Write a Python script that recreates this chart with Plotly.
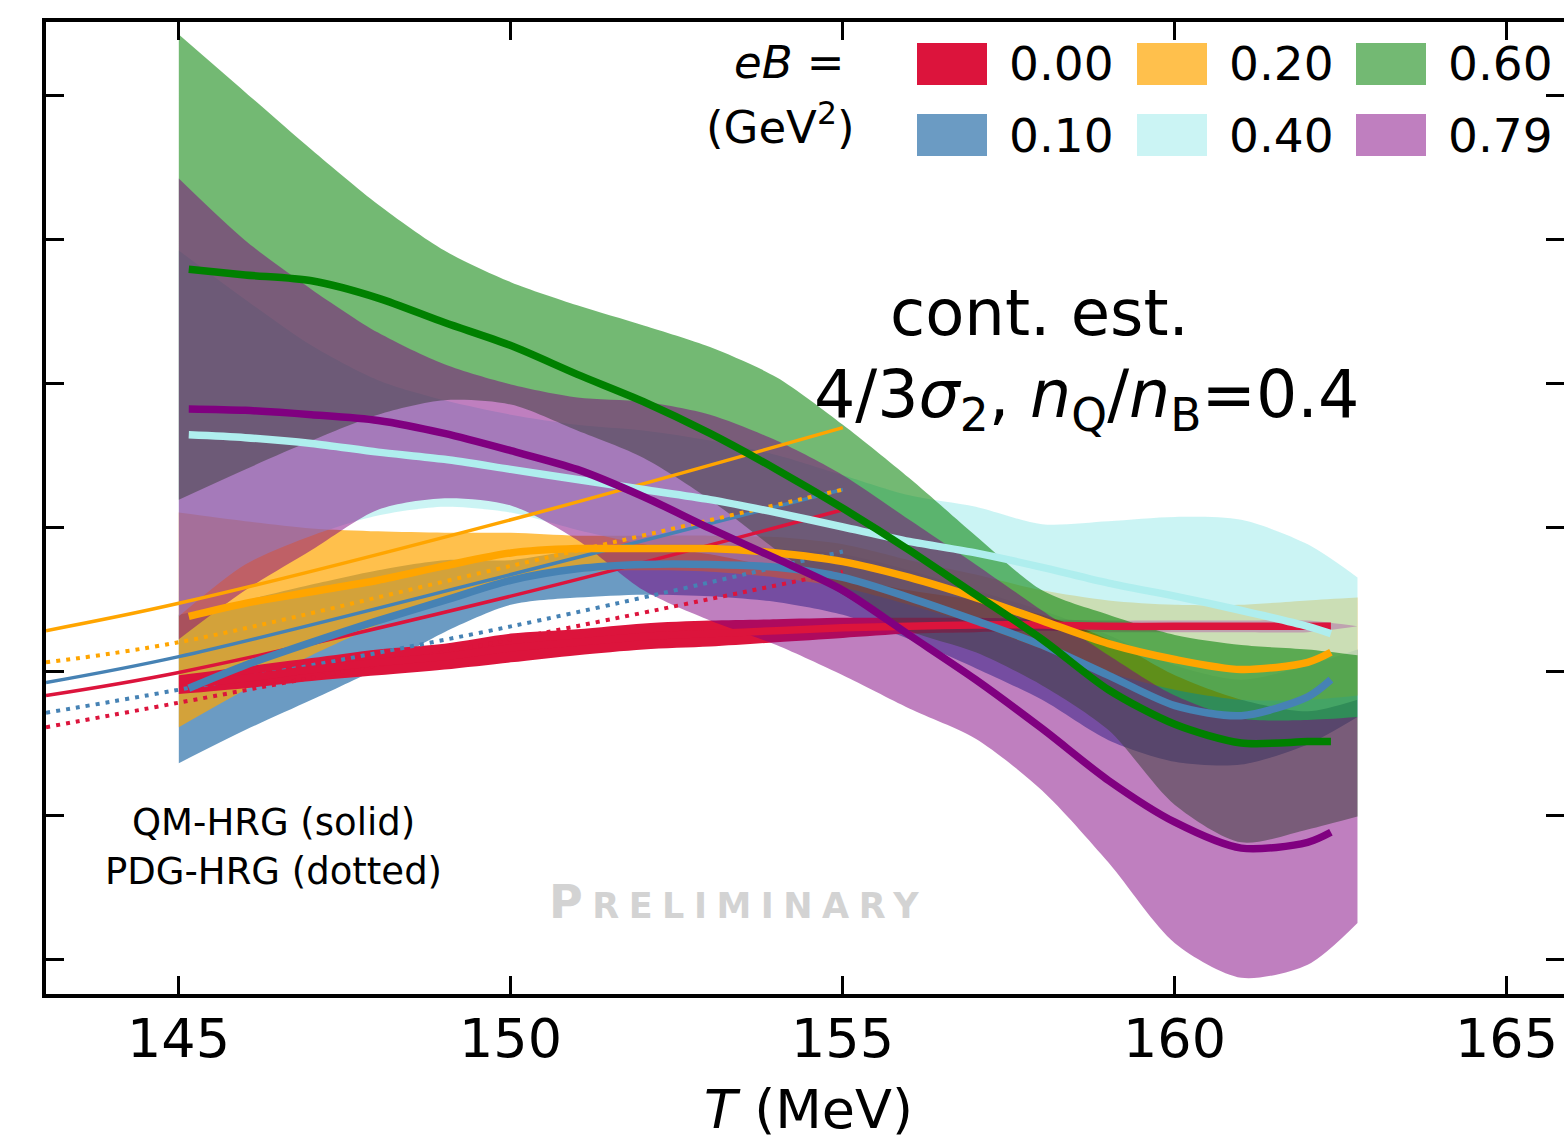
import plotly.graph_objects as go

# Temperature grids (MeV)
T_BAND = [145, 146, 147, 148, 149, 150, 151, 152, 153, 154, 155, 156, 157, 158, 159, 160, 161, 162, 162.75]
T_LINE = [145.15, 146, 147, 148, 149, 150, 151, 152, 153, 154, 155, 156, 157, 158, 159, 160, 161, 162, 162.35]
T_HRG = [143, 145, 150, 155]

EB_LABELS = ["0.00", "0.10", "0.20", "0.40", "0.60", "0.79"]

# Continuum estimates: central values and error-band edges, eB = 0.00 ... 0.79 GeV^2
cen_000 = [0.591, 0.595, 0.601, 0.606, 0.610, 0.616, 0.620, 0.624, 0.626, 0.628, 0.630, 0.631, 0.632, 0.632, 0.631, 0.631, 0.631, 0.631, 0.631]
lo_000 = [0.584, 0.588, 0.593, 0.597, 0.601, 0.606, 0.611, 0.615, 0.617, 0.620, 0.623, 0.626, 0.627, 0.628, 0.627, 0.627, 0.627, 0.627, 0.631]
hi_000 = [0.597, 0.603, 0.609, 0.615, 0.619, 0.626, 0.629, 0.633, 0.635, 0.636, 0.637, 0.637, 0.637, 0.636, 0.635, 0.635, 0.635, 0.635, 0.631]

cen_010 = [0.588, 0.604, 0.620, 0.635, 0.649, 0.663, 0.671, 0.674, 0.674, 0.672, 0.665, 0.651, 0.635, 0.618, 0.597, 0.576, 0.569, 0.582, 0.594]
lo_010 = [0.536, 0.559, 0.580, 0.602, 0.627, 0.646, 0.651, 0.653, 0.652, 0.648, 0.639, 0.622, 0.602, 0.580, 0.552, 0.537, 0.535, 0.549, 0.568]
hi_010 = [0.639, 0.649, 0.660, 0.670, 0.677, 0.677, 0.684, 0.688, 0.688, 0.685, 0.681, 0.670, 0.656, 0.642, 0.625, 0.604, 0.594, 0.604, 0.615]

cen_020 = [0.638, 0.647, 0.655, 0.663, 0.673, 0.682, 0.685, 0.685, 0.685, 0.682, 0.676, 0.665, 0.651, 0.635, 0.619, 0.608, 0.601, 0.606, 0.613]
lo_020 = [0.561, 0.587, 0.611, 0.632, 0.651, 0.665, 0.669, 0.670, 0.669, 0.665, 0.658, 0.646, 0.632, 0.615, 0.599, 0.587, 0.580, 0.580, 0.583]
hi_020 = [0.710, 0.704, 0.699, 0.697, 0.696, 0.696, 0.694, 0.694, 0.694, 0.693, 0.688, 0.677, 0.667, 0.656, 0.649, 0.646, 0.646, 0.649, 0.651]

cen_040 = [0.764, 0.762, 0.758, 0.752, 0.747, 0.740, 0.733, 0.726, 0.719, 0.710, 0.700, 0.690, 0.682, 0.672, 0.661, 0.652, 0.642, 0.631, 0.626]
lo_040 = [0.638, 0.674, 0.694, 0.708, 0.714, 0.710, 0.698, 0.688, 0.681, 0.672, 0.665, 0.656, 0.649, 0.639, 0.622, 0.597, 0.580, 0.572, 0.580]
hi_040 = [0.892, 0.858, 0.826, 0.802, 0.788, 0.778, 0.771, 0.767, 0.760, 0.750, 0.736, 0.722, 0.714, 0.702, 0.704, 0.707, 0.705, 0.688, 0.665]

cen_060 = [0.879, 0.875, 0.871, 0.859, 0.842, 0.826, 0.806, 0.787, 0.765, 0.740, 0.713, 0.684, 0.653, 0.622, 0.587, 0.563, 0.550, 0.551, 0.551]
lo_060 = [0.719, 0.740, 0.760, 0.778, 0.788, 0.785, 0.767, 0.748, 0.719, 0.684, 0.653, 0.628, 0.613, 0.590, 0.559, 0.507, 0.481, 0.490, 0.499]
hi_060 = [1.042, 1.002, 0.962, 0.924, 0.892, 0.870, 0.854, 0.840, 0.825, 0.804, 0.771, 0.734, 0.694, 0.656, 0.639, 0.625, 0.618, 0.615, 0.611]

cen_079 = [0.782, 0.781, 0.778, 0.774, 0.765, 0.753, 0.740, 0.721, 0.699, 0.678, 0.656, 0.625, 0.594, 0.560, 0.524, 0.495, 0.477, 0.481, 0.488]
lo_079 = [0.622, 0.656, 0.684, 0.712, 0.720, 0.715, 0.691, 0.656, 0.635, 0.618, 0.597, 0.574, 0.553, 0.517, 0.467, 0.411, 0.387, 0.396, 0.425]
hi_079 = [0.942, 0.899, 0.865, 0.835, 0.813, 0.799, 0.790, 0.787, 0.778, 0.760, 0.736, 0.705, 0.674, 0.642, 0.611, 0.583, 0.567, 0.566, 0.568]

# Hadron resonance gas curves (QM-HRG solid, PDG-HRG dotted)
qm_000 = [0.583, 0.599, 0.652, 0.712]
qm_010 = [0.592, 0.610, 0.667, 0.726]
qm_020 = [0.628, 0.647, 0.705, 0.769]
pdg_000 = [0.561, 0.578, 0.622, 0.669]
pdg_010 = [0.571, 0.587, 0.631, 0.683]
pdg_020 = [0.606, 0.620, 0.673, 0.726]

X_TICKS = [145, 150, 155, 160, 165]
Y_TICKS = [0.4, 0.5, 0.6, 0.7, 0.8, 0.9, 1.0]
X_RANGE = [143.0, 165.86]
Y_RANGE = [0.3757, 1.0507]

LINE_COLORS = ["#DC143C", "#4682B4", "#FFA500", "#AFEEEE", "#008000", "#800080"]
BAND_COLORS = ["rgba(220,20,60,1.0)", "rgba(70,130,180,0.8)", "rgba(255,165,0,0.7)",
               "rgba(175,238,238,0.65)", "rgba(0,128,0,0.55)", "rgba(128,0,128,0.5)"]

centres = [cen_000, cen_010, cen_020, cen_040, cen_060, cen_079]
lows = [lo_000, lo_010, lo_020, lo_040, lo_060, lo_079]
highs = [hi_000, hi_010, hi_020, hi_040, hi_060, hi_079]

FONT = "DejaVu Sans"
fig = go.Figure()

# error bands: blue and orange first, red on top of them, then the rest by eB
band_order = [1, 2, 0, 3, 4, 5]
for i in band_order:
    fig.add_trace(go.Scatter(x=T_BAND, y=lows[i], mode="lines", line=dict(width=0, shape="spline", smoothing=0.8),
                             showlegend=False, hoverinfo="skip"))
    fig.add_trace(go.Scatter(x=T_BAND, y=highs[i], mode="lines", line=dict(width=0, shape="spline", smoothing=0.8),
                             fill="tonexty", fillcolor=BAND_COLORS[i], showlegend=False, hoverinfo="skip"))

# HRG curves
hrg = [(qm_000, pdg_000, 0), (qm_010, pdg_010, 1), (qm_020, pdg_020, 2)]
for qm, pdg, i in hrg:
    fig.add_trace(go.Scatter(x=T_HRG, y=qm, mode="lines",
                             line=dict(color=LINE_COLORS[i], width=3.5, shape="spline"),
                             showlegend=False, hoverinfo="skip"))
    fig.add_trace(go.Scatter(x=T_HRG, y=pdg, mode="lines",
                             line=dict(color=LINE_COLORS[i], width=4, dash="4px,6px", shape="spline"),
                             showlegend=False, hoverinfo="skip"))

# central values
for i in range(6):
    fig.add_trace(go.Scatter(x=T_LINE, y=centres[i], mode="lines",
                             line=dict(color=LINE_COLORS[i], width=7.5, shape="spline", smoothing=0.8),
                             showlegend=False, hoverinfo="skip"))

# right-hand axis carrying only the mirrored tick marks
fig.add_trace(go.Scatter(x=[], y=[], yaxis="y2", showlegend=False, hoverinfo="skip"))

# layout helpers: plot-area frame in page pixels
L, R, TOP, BOT = 46, 1564, 22, 994


def fx(x):
    return (x - L) / (R - L)


def fy(y):
    return (BOT - y) / (BOT - TOP)


annotations = []
shapes = []


def label(text, x, y, size, color="black", xanchor="center"):
    annotations.append(dict(text=text, x=fx(x), y=fy(y), xref="paper", yref="paper",
                            xanchor=xanchor, yanchor="middle", showarrow=False,
                            font=dict(family=FONT, size=size, color=color)))


# x tick labels and axis title
for t in X_TICKS:
    annotations.append(dict(text=str(t), x=t, y=fy(1038), xref="x", yref="paper",
                            xanchor="center", yanchor="middle", showarrow=False,
                            font=dict(family=FONT, size=54, color="black")))
label("<i>T</i> (MeV)", 808, 1109, 54)

# legend: two rows, three columns
col_x = [917, 1137, 1356]
row_y = [64, 135]
for k, lab in enumerate(EB_LABELS):
    c, r = k // 2, k % 2
    x0 = col_x[c]
    yc = row_y[r]
    shapes.append(dict(type="rect", xref="paper", yref="paper",
                       x0=fx(x0), x1=fx(x0 + 70), y0=fy(yc + 21), y1=fy(yc - 21),
                       fillcolor=BAND_COLORS[k], line=dict(width=0)))
    label(lab, x0 + 90, yc, 47, xanchor="left")

label("<i>eB</i> =", 789, 62, 45)
label("(GeV<sup>2</sup>)", 780, 124, 45)

label("cont. est.", 1039, 313, 64)
label("4/3<i>σ</i><sub>2</sub>, <i>n</i><sub>Q</sub>/<i>n</i><sub>B</sub>=0.4", 1086, 400, 65)

label("QM-HRG (solid)", 273, 822, 37)
label("PDG-HRG (dotted)", 273, 871, 37)

label('<span style="letter-spacing:9.5px;font-weight:bold"><span style="font-size:46px">P</span>RELIMINARY</span>',
      738, 902, 35, color="#D3D3D3")

axis_common = dict(ticks="inside", ticklen=18, tickwidth=3, tickcolor="black",
                   showgrid=False, zeroline=False)

fig.update_layout(
    width=1564, height=1141,
    margin=dict(l=L, r=0, t=TOP, b=1141 - BOT),
    paper_bgcolor="white", plot_bgcolor="white",
    font=dict(family=FONT, color="black"),
    showlegend=False,
    annotations=annotations, shapes=shapes,
    xaxis=dict(range=X_RANGE, tickvals=X_TICKS, showticklabels=False,
               showline=True, linecolor="black", linewidth=3.5, mirror="ticks", **axis_common),
    yaxis=dict(range=Y_RANGE, tickvals=Y_TICKS, showticklabels=False,
               showline=True, linecolor="black", linewidth=3.5, mirror=False, **axis_common),
    yaxis2=dict(range=Y_RANGE, tickvals=Y_TICKS, showticklabels=False, overlaying="y", side="right",
                showline=False, **axis_common),
)

fig.write_html("out.html")
